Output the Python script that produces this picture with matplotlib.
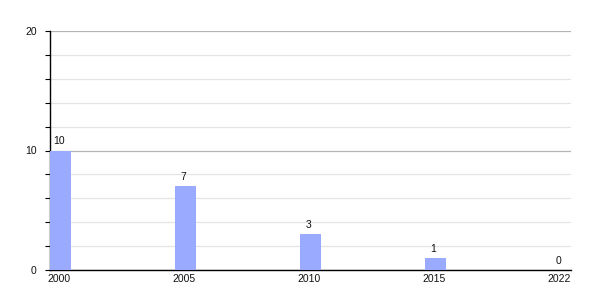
import matplotlib
matplotlib.use("Agg")
import matplotlib.pyplot as plt
from matplotlib.ticker import MultipleLocator

years = ["2000", "2005", "2010", "2015", "2022"]
values = [10, 7, 3, 1, 0]

plt.rcParams['font.family'] = ['Liberation Sans', 'DejaVu Sans']

fig = plt.figure(figsize=(6, 3), dpi=100)
ax = fig.add_axes([50/600, 1 - 270/300, 521/600, 239/300])

bw = 0.168
pos = list(range(len(years)))
ax.bar(pos, values, width=bw, align='edge', color='#99AAFF', zorder=3)
for p, v in zip(pos, values):
    ax.text(p + bw/2 - 0.015, v + 0.35, str(v), ha='center', va='bottom', fontsize=7.5, color='#111111', zorder=4)

ax.set_xlim(0, 4 + bw)
ax.set_ylim(0, 20)
ax.yaxis.set_major_locator(MultipleLocator(10))
ax.yaxis.set_minor_locator(MultipleLocator(2))
ax.set_xticks([p + bw/2 - 0.015 for p in pos])
ax.set_xticklabels(years)
ax.tick_params(axis='x', length=0, pad=3, labelsize=7.5, labelcolor='#111111')
ax.tick_params(axis='y', which='both', length=3.5, width=0.8, pad=6, labelsize=7.5, direction='out', labelcolor='#111111')
ax.grid(axis='y', which='major', color='#b4b4b4', linewidth=0.9, zorder=0)
ax.grid(axis='y', which='minor', color='#e4e4e4', linewidth=0.9, zorder=0)
ax.set_axisbelow(True)
for s in ['top', 'right']:
    ax.spines[s].set_visible(False)
ax.spines['left'].set_linewidth(1)
ax.spines['bottom'].set_linewidth(1)

fig.savefig("out.png", dpi=100)
